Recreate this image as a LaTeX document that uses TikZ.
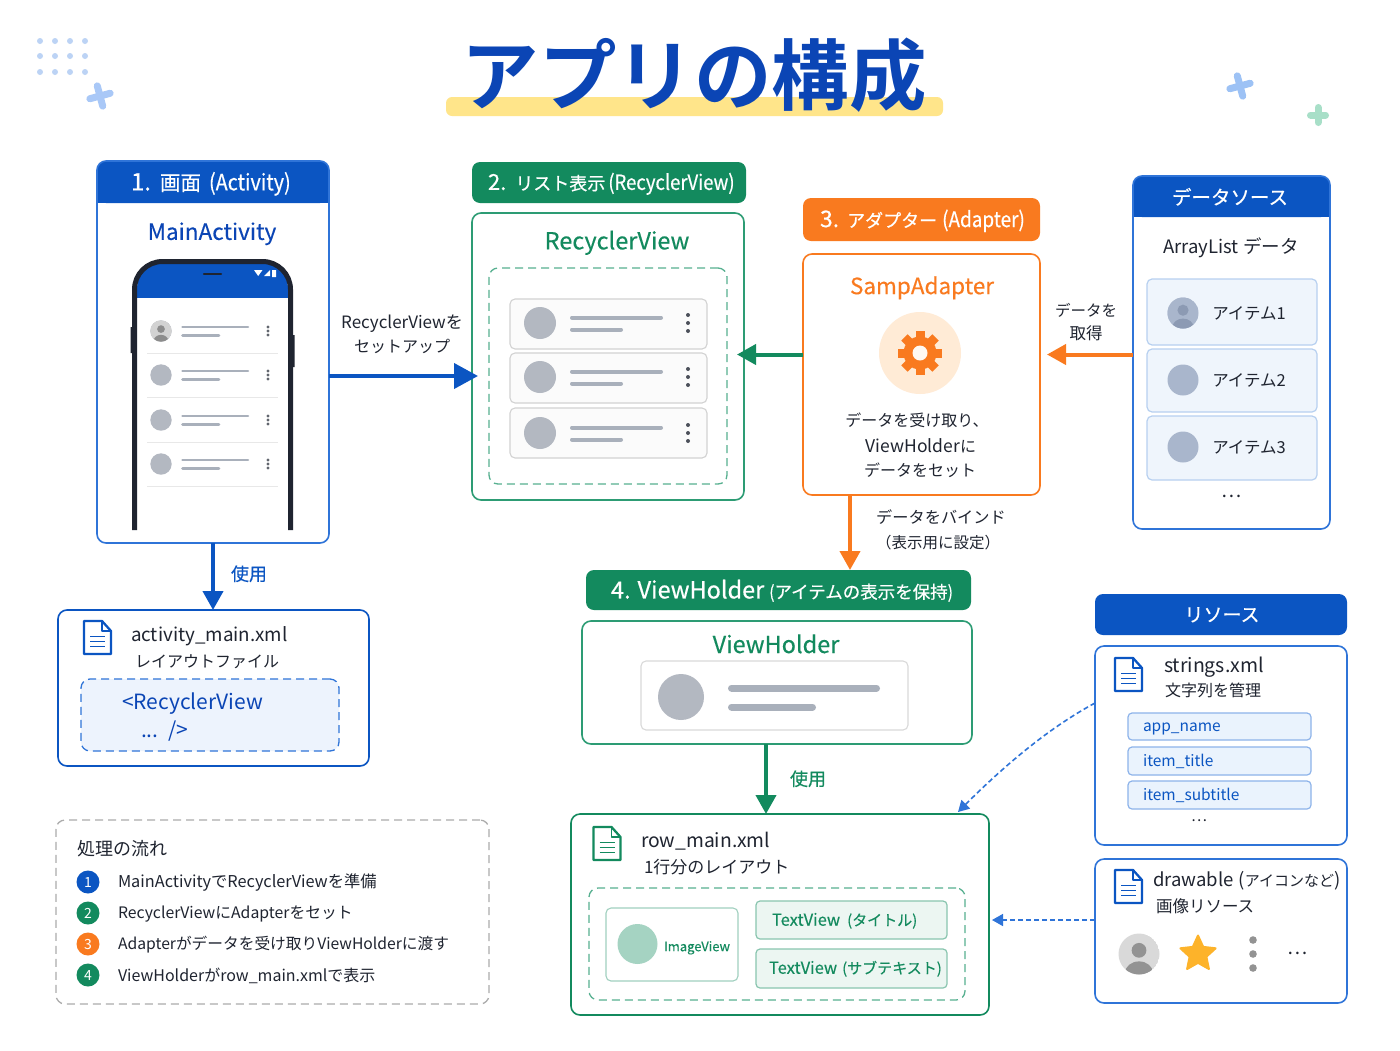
\documentclass[tikz,border=0pt]{standalone}
\usepackage{fontspec}
\usetikzlibrary{arrows.meta,shapes.geometric,calc}
\setmainfont{Noto Sans CJK JP}[BoldFont={Noto Sans CJK JP Bold}]
\newfontfamily\medfont{Noto Sans CJK JP}[FakeBold=0.3]
\newfontfamily\headfont{Noto Sans CJK JP}[FakeBold=0.5]
\newfontfamily\condfont{Noto Sans CJK JP}[FakeBold=0.45,FakeStretch=0.88]
\definecolor{cblue}{HTML}{0B55C2}
\definecolor{bblue}{HTML}{2F74D8}
\definecolor{dblue}{HTML}{0B45B5}
\definecolor{cgreen}{HTML}{138A5E}
\definecolor{bgreen}{HTML}{2D9C74}
\definecolor{corange}{HTML}{F97A1F}
\definecolor{ink}{HTML}{1F2430}
\definecolor{barcol}{HTML}{A9B0BB}
\definecolor{avacol}{HTML}{B3B8C1}
\definecolor{dotcol}{HTML}{BCD3F5}
\definecolor{plusa}{HTML}{A9C8F7}
\definecolor{plusb}{HTML}{9DC2F5}
\definecolor{plusc}{HTML}{A8DFC8}
\definecolor{barbg}{HTML}{FFE58A}
\definecolor{itemfill}{HTML}{EFF5FC}
\definecolor{itemline}{HTML}{B7D0F0}
\definecolor{itemava}{HTML}{A9B6CC}
\definecolor{itemavb}{HTML}{8C9AB3}
\definecolor{codefill}{HTML}{EDF3FD}
\definecolor{chipfill}{HTML}{EAF3FD}
\definecolor{starcol}{HTML}{FDB32A}
\newcommand{\fs}[1]{\fontsize{#1}{#1}\selectfont}
\tikzset{
  x=1pt,y=-1pt,
  txt/.style={inner sep=0pt,outer sep=0pt,text=ink,yshift=-0.8pt},
  lft/.style={txt,anchor=west},
  barline/.style={line width=#1,barcol,line cap=round},
  arrowblue/.style={line width=4pt,cblue,-{Triangle[length=24pt,width=25pt]}},
  arrowgreen/.style={line width=4pt,cgreen,-{Triangle[length=19pt,width=20pt]}},
  arroworange/.style={line width=4pt,corange,-{Triangle[length=19pt,width=20pt]}},
  arrowdash/.style={line width=1.6pt,bblue,dash pattern=on 5pt off 3pt,-{Triangle[length=11pt,width=12pt]}},
  chip/.style={draw=#1!50!white,fill=#1!8!white,line width=1.2pt,rounded corners=4pt},
  dashbox/.style={draw=#1,line width=1.3pt,dash pattern=on 8pt off 5pt,rounded corners=9pt},
  rowcard/.style={draw=#1,line width=1.1pt,rounded corners=5pt,fill=white},
  solidbox/.style={draw=#1,line width=1.6pt,rounded corners=9pt,fill=white},
}
% name x1 y1 x2 y2 style
\newcommand{\rbox}[6]{\node[#6,inner sep=0pt,outer sep=0pt,minimum width={(#4-#2)*1pt},minimum height={(#5-#3)*1pt}] (#1) at ({(#2+#4)/2},{(#3+#5)/2}) {};}
% name x1 ytop ymid x2 ybot colour border
\newcommand{\card}[8]{%
  \fill[white,rounded corners=9pt] (#2,#3) rectangle (#5,#6);
  \fill[#7,rounded corners=9pt] (#2,#4) -- (#2,#3) -- (#5,#3) -- (#5,#4) -- cycle;
  \fill[#7] (#2,{#4-10}) rectangle (#5,#4);
  \draw[#8,line width=1.6pt,rounded corners=9pt] (#2,#3) rectangle (#5,#6);
  \rbox{#1}{#2}{#4}{#5}{#6}{}}
\newcommand{\docicon}[3]{% x y colour
  \begin{scope}[shift={(#1,#2)}]
    \draw[#3,line width=2.3pt,line join=round] (0,0) -- (18,0) -- (27,10) -- (27,33) -- (0,33) -- cycle;
    \draw[#3,line width=1.8pt,line join=round] (18,0) -- (18,10) -- (27,10);
    \draw[#3,line width=1.8pt] (6,15.5) -- (21,15.5) (6,20.5) -- (21,20.5) (6,25.5) -- (21,25.5);
  \end{scope}}
\newcommand{\person}[5]{% x y r bg fg
  \begin{scope}
    \clip (#1,#2) circle (#3);
    \fill[#4] (#1,#2) circle (#3);
    \fill[#5] (#1,{#2-0.18*#3}) circle ({0.36*#3});
    \fill[#5] (#1,{#2+0.92*#3}) ellipse ({0.68*#3} and {0.56*#3});
  \end{scope}}
\newcommand{\kebab}[4]{% x y gap colour
  \fill[#4] (#1,{#2-#3}) circle (1.7) (#1,#2) circle (1.7) (#1,{#2+#3}) circle (1.7);}
\newcommand{\plusmark}[5]{% x y len colour rotation
  \begin{scope}[shift={(#1,#2)},rotate=#5]
    \draw[#4,line width=7pt,line cap=round] ({-#3/2},0) -- ({#3/2},0) (0,{-#3/2}) -- (0,{#3/2});
  \end{scope}}
\begin{document}
\begin{tikzpicture}
\useasboundingbox (0,0) rectangle (1400,1050);
\fill[white] (0,0) rectangle (1400,1050);

% decoration
\foreach \yy in {41,56,72} \foreach \xx in {40,55,70,85}
  \fill[dotcol] (\xx,\yy) circle (3);
\plusmark{100}{96}{21}{plusa}{15}
\plusmark{1240}{86}{21}{plusb}{15}
\plusmark{1318}{115}{15}{plusc}{0}

% title
\fill[barbg,rounded corners=6pt] (446,97) rectangle (943,116);
\node[txt,text=dblue] (title) at (694,74) {\fs{77.5}\bfseries アプリの構成};

% 1 activity
\card{activitybody}{97}{161}{203}{329}{543}{cblue}{bblue}
\node[lft,text=white] (activityhead) at (131,183) {\headfont\fs{24}1.\hspace{9pt}\fs{20.5}画面\hspace{8pt}\condfont\fs{22.5}(Activity)};
\node[txt,text=dblue] (mainactivity) at (212,233) {\fs{22.5}\medfont MainActivity};
% phone
\begin{scope}
  \clip (130,255) rectangle (295,297);
  \fill[cblue,rounded corners=25pt] (137,263) rectangle (288,340);
\end{scope}
\draw[ink,line width=5pt,rounded corners=28pt] (134.5,530) -- (134.5,261.5) -- (290.5,261.5) -- (290.5,530);
\fill[ink] (130.5,327) rectangle (133,353) (292,335) rectangle (294.5,367);
\draw[ink,line width=2.5pt,line cap=round] (204,274) -- (221,274);
\fill[white] (254,270) -- (262.5,270) -- (258.2,276) -- cycle (264,276) -- (270,270) -- (270,276) -- cycle (272,270) rectangle (276,277);
\foreach \yy/\dd in {331/353,375/397.5,420/442,464/486}{
  \fill[avacol] (161,\yy) circle (10.7);
  \draw[barline=2.6pt] (182.5,{\yy-4}) -- (248,{\yy-4});
  \draw[barline=2.6pt] (182.5,{\yy+4.5}) -- (219,{\yy+4.5});
  \kebab{268}{\yy}{4}{ink!70!white}
  \draw[gray!18!white,line width=1pt] (147,\dd) -- (278,\dd);
}
\person{161}{331}{10.7}{gray!35!white}{gray!90!white}

% 2 recycler
\rbox{listhead}{472}{162}{746}{203}{fill=cgreen,rounded corners=8pt}
\node[lft,text=white] (listheadtext) at (488,183) {\headfont\fs{22}2.\hspace{9pt}\fs{18}リスト表示\hspace{3pt}\condfont\fs{21}(RecyclerView)};
\rbox{recycler}{472}{213}{744}{500}{solidbox=bgreen}
\node[txt,text=cgreen] (recyclertitle) at (617,242) {\fs{23.5}\medfont RecyclerView};
\rbox{listdash}{489}{268}{727}{484}{dashbox=bgreen!80!white}
\foreach \yt/\yb/\yc in {299/349/323,353/403/377,408/458/433}{
  \draw[gray!35!white,line width=1.1pt,fill=gray!3!white,rounded corners=5pt] (510,\yt) rectangle (707,\yb);
  \fill[avacol] (540,\yc) circle (16);
  \draw[barline=4pt] (572,{\yc-5.5}) -- (661,{\yc-5.5});
  \draw[barline=4pt] (572,{\yc+6.5}) -- (621,{\yc+6.5});
  \fill[ink!80!white] (688,{\yc-8}) circle (2) (688,\yc) circle (2) (688,{\yc+8}) circle (2);
}

% 3 adapter
\rbox{adapterhead}{803}{198}{1040}{241}{fill=corange,rounded corners=8pt}
\node[lft,text=white] (adapterheadtext) at (820,220) {\headfont\fs{23}3.\hspace{8pt}\fs{18}アダプター\hspace{5pt}\condfont\fs{21.5}(Adapter)};
\rbox{adapter}{803}{254}{1040}{495}{solidbox=corange}
\node[txt,text=corange] (adaptertitle) at (922,287) {\fs{22.5}\medfont SampAdapter};
\fill[orange!16!white] (920,353) circle (41);
\foreach \aa in {0,45,...,315}
  \fill[corange,rotate around={\aa:(920,353)}] (915.5,331) rectangle (924.5,342);
\fill[corange] (920,353) circle (16.5);
\fill[orange!5!white] (920,353) circle (7.5);
\node[txt] (adaptertext1) at (917,419.5) {\fs{16}データを受け取り、};
\node[txt] (adaptertext2) at (921,445) {\fs{17.5}ViewHolder\fs{16}に};
\node[txt] (adaptertext3) at (920,469.5) {\fs{16}データをセット};

% data source
\card{source}{1133}{176}{217}{1330}{529}{cblue}{bblue}
\node[txt,text=white] (sourcehead) at (1230,196) {\fs{19.5}\headfont データソース};
\node[txt] (arraylist) at (1231,247) {\fs{18.5}ArrayList データ};
\foreach \nn/\yt/\yb/\yc in {1/279/345/313,2/349/412/380,3/416/480/447}{
  \draw[itemline,line width=1.2pt,fill=itemfill,rounded corners=5pt] (1147,\yt) rectangle (1317,\yb);
  \fill[itemava] (1183,\yc) circle (15.5);
  \node[txt] (item\nn) at (1249,\yc) {\fs{16.5}アイテム\nn};
}
\person{1183}{313}{15.5}{itemava}{itemavb}
\node[txt] (sourcedots) at (1232,496) {\fs{19}…};

% connector labels
\node[txt] (setup1) at (402,323) {\fs{17}RecyclerViewを};
\node[txt] (setup2) at (402,346) {\fs{16}セットアップ};
\node[txt] (get1) at (1086,310) {\fs{15.5}データを};
\node[txt] (get2) at (1086,332) {\fs{16.5}取得};
\node[txt] (bind1) at (941,516.5) {\fs{16.2}データをバインド};
\node[txt] (bind2) at (938,541.5) {\fs{15.5}（表示用に設定）};
\node[txt,text=cblue] (use1) at (249,573) {\fs{18}\medfont 使用};
\node[txt,text=cgreen] (use2) at (808,778) {\fs{18}\medfont 使用};

% activity_main
\rbox{actxml}{58}{610}{369}{766}{solidbox=cblue}
\docicon{84}{621}{cblue}
\node[lft] (actxml1) at (131,635) {\fs{18.8}activity\_main.xml};
\node[lft] (actxml2) at (135,661) {\fs{16}レイアウトファイル};
\rbox{actdash}{81}{679}{339}{751}{dashbox=bblue,fill=codefill}
\node[lft,text=dblue] (actcode1) at (122,703) {\fs{21}<RecyclerView};
\node[lft,text=dblue] (actcode2) at (141,730) {\fs{21}...\hspace{10pt}/>};

% 4 viewholder
\rbox{vhhead}{586}{570}{971}{610}{fill=cgreen,rounded corners=8pt}
\node[lft,text=white] (vhheadtext) at (611,590) {\headfont\fs{23.5}4. ViewHolder\hspace{5pt}\condfont\fs{17.5}(\headfont アイテムの表示を保持\condfont )};
\rbox{vh}{582}{621}{972}{744}{solidbox=bgreen}
\node[txt,text=cgreen] (vhtitle) at (776,643) {\fs{23.5}\medfont ViewHolder};
\rbox{vhrow}{641}{661}{908}{730}{rowcard=gray!30!white}
\fill[avacol] (681,697) circle (23);
\draw[barline=7pt] (731.5,688) -- (876.5,688);
\draw[barline=7pt] (731.5,707) -- (812.5,707);

% row_main
\rbox{row}{571}{814}{989}{1015}{solidbox=cgreen}
\docicon{593.5}{827}{cgreen}
\node[lft] (row1) at (641,840) {\fs{19.3}row\_main.xml};
\node[lft] (row2) at (644,866) {\fs{17}1行分のレイアウト};
\rbox{rowdash}{589}{888}{965}{1000}{dashbox=bgreen!80!white}
\rbox{rowimg}{606}{908}{738}{981}{rowcard=cgreen!40!white}
\fill[cgreen!38!white] (637.5,944) circle (20);
\node[txt,text=cgreen] (imgtext) at (697,947) {\fs{13}\medfont ImageView};
\rbox{tv1}{756}{901}{947}{939}{chip=cgreen}
\rbox{tv2}{756}{949}{947}{988}{chip=cgreen}
\node[lft,text=cgreen] (tv1text) at (772,920) {\fs{16.5}\medfont TextView\hspace{7pt}\fs{15}(タイトル)};
\node[lft,text=cgreen] (tv2text) at (769,968) {\fs{16.5}\medfont TextView\hspace{5pt}\fs{15}(サブテキスト)};

% resources
\rbox{reshead}{1095}{594}{1347}{635}{fill=cblue,rounded corners=8pt}
\node[txt,text=white] (resheadtext) at (1222,614) {\fs{19}\headfont リソース};
\rbox{strings}{1095}{646}{1347}{845}{solidbox=bblue}
\docicon{1115}{658}{cblue}
\node[lft] (strings1) at (1164,666) {\fs{19.5}strings.xml};
\node[lft] (strings2) at (1165,690) {\fs{16}文字列を管理};
\foreach \nm/\yt/\yb/\lab in {a/713/740/app\_name,b/747/775/item\_title,c/781/809/item\_subtitle}{
  \rbox{chip\nm}{1128}{\yt}{1311}{\yb}{draw=bblue!55!white,fill=chipfill,line width=1.2pt,rounded corners=4pt}
  \node[lft,text=cblue] (chiptext\nm) at (1143,{(\yt+\yb)/2}) {\fs{15.5}\lab\vphantom{Ag}};
}
\node[txt] (stringsdots) at (1199,820) {\fs{15}…};
\rbox{drawable}{1095}{859}{1347}{1003}{solidbox=bblue}
\docicon{1115}{870}{cblue}
\node[lft] (draw1) at (1153,880) {\fs{18.5}drawable\hspace{5pt}(\fs{15}アイコンなど\fs{18.5})};
\node[lft] (draw2) at (1156,905) {\fs{16.5}画像リソース};
\person{1139}{954}{20.5}{gray!30!white}{gray!85!white}
\node[star,star points=5,star point ratio=2.1,fill=starcol,draw=starcol,line width=2pt,line join=round,minimum size=37pt,inner sep=0pt] (starshape) at (1198,954) {};
\fill[gray!85!white] (1253,940) circle (3.8) (1253,954) circle (3.8) (1253,968) circle (3.8);
\node[txt] (drawdots) at (1298,953) {\fs{19}…};

% legend
\rbox{legend}{56}{820}{489}{1004}{dashbox=gray!65!white}
\node[lft] (legendtitle) at (77,848) {\fs{18}処理の流れ};
\foreach \nn/\yy/\cc/\ss/\tt in {1/882/cblue/16.3/MainActivityでRecyclerViewを準備,2/913/cgreen/15.8/RecyclerViewにAdapterをセット,3/944/corange/15.7/Adapterがデータを受け取りViewHolderに渡す,4/975/cgreen/16/ViewHolderがrow\_main.xmlで表示}{
  \node[circle,fill=\cc,text=white,minimum size=23pt,inner sep=0pt] (legendnum\nn) at (88,\yy) {\fs{14}\nn};
  \node[lft] (legendtext\nn) at (118,\yy) {\fs{\ss}\tt};
}

% connectors
\coordinate (bindx) at (850,0);
\coordinate (vhx) at (766,0);
\coordinate (drawy) at (0,920);
\coordinate (adaptery) at (0,354.5);
\coordinate (strstart) at (1095,703);
\coordinate (rowin) at (958,812);
\draw[arrowblue,shorten >=11pt] (activitybody.east |- listdash.west) -- (listdash.west);
\draw[arrowgreen,shorten >=-7pt] (adapter.west |- adaptery) -- (recycler.east |- adaptery);
\draw[arroworange,shorten >=7pt] (source.west |- adaptery) -- (adapter.east |- adaptery);
\draw[arroworange] (adapter.south -| bindx) -- (vhhead.north -| bindx);
\draw[line width=4pt,cblue,-{Triangle[length=19pt,width=20pt]}] (activitybody.south) -- (actxml.north -| activitybody.south);
\draw[arrowgreen] (vh.south -| vhx) -- (row.north -| vhx);
\draw[arrowdash] (strstart) .. controls (1045,730) and (1000,770) .. (rowin);
\draw[arrowdash,shorten >=3pt] (drawable.west |- drawy) -- (row.east |- drawy);
\end{tikzpicture}
\end{document}
